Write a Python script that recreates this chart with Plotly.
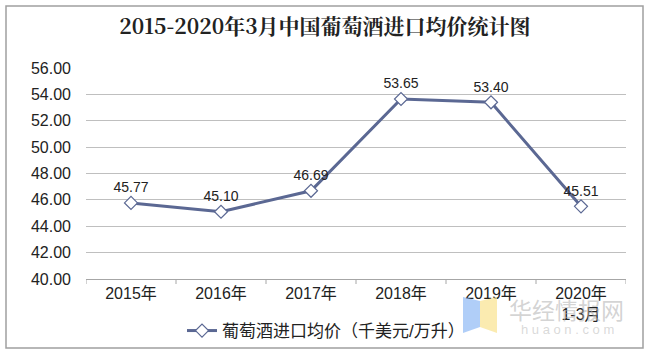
import plotly.graph_objects as go

categories = ["2015年", "2016年", "2017年", "2018年", "2019年", "2020年<br>1-3月"]
values = [45.77, 45.10, 46.69, 53.65, 53.40, 45.51]
value_labels = ["45.77", "45.10", "46.69", "53.65", "53.40", "45.51"]
tick_vals = [40, 42, 44, 46, 48, 50, 52, 54, 56]
tick_text = ["40.00", "42.00", "44.00", "46.00", "48.00", "50.00", "52.00", "54.00", "56.00"]
series_name = "葡萄酒进口均价（千美元/万升）"
title = "2015-2020年3月中国葡萄酒进口均价统计图"

W, H = 650, 355
L, R, T, B = 86, 24, 68, 76
pw, ph = W - L - R, H - T - B

def px_x(x):
    return (x - L) / pw

def px_y(y):
    return (H - B - y) / ph

line_color = "#5b6893"
font_main = "Liberation Sans, Arial, Noto Sans CJK SC, sans-serif"

fig = go.Figure()
fig.add_trace(go.Scatter(
    x=list(range(len(categories))), y=values,
    mode="lines+markers+text",
    name=series_name,
    line=dict(color=line_color, width=3),
    marker=dict(symbol="diamond", size=10, color="white",
                line=dict(color=line_color, width=1.2)),
    text=value_labels, textposition="top center",
    textfont=dict(size=14, color="#222222", family=font_main),
    cliponaxis=False,
))

fig.update_layout(
    width=W, height=H,
    margin=dict(l=L, r=R, t=T, b=B, autoexpand=False),
    paper_bgcolor="white", plot_bgcolor="white",
    showlegend=True,
    legend=dict(orientation="h", x=px_x(182), xanchor="left", y=px_y(331), yanchor="middle",
                font=dict(size=17, color="#222222", family=font_main),
                itemwidth=30, bgcolor="rgba(0,0,0,0)"),
    title=dict(text="<b>" + title + "</b>", x=0.5, xanchor="center",
               y=1 - 27 / H, yanchor="middle",
               font=dict(size=21, color="#222222", family="Noto Serif CJK SC, Noto Sans CJK SC, serif")),
    xaxis=dict(
        tickmode="array", tickvals=list(range(len(categories))), ticktext=categories,
        range=[-0.5, len(categories) - 0.5],
        showgrid=False, showline=True, linecolor="#a6a6a6", linewidth=1,
        ticks="", tickfont=dict(size=16, color="#222222", family=font_main),
        zeroline=False, fixedrange=True,
    ),
    yaxis=dict(
        range=[40, 56], tickmode="array", tickvals=tick_vals, ticktext=tick_text,
        showgrid=True, gridcolor="#bfbfbf", gridwidth=1,
        showline=False, zeroline=False, ticks="",
        tickfont=dict(size=16, color="#222222", family=font_main),
        ticklabelstandoff=14, fixedrange=True,
    ),
)

# category boundary tick marks on the x axis
for i in range(len(categories) + 1):
    fig.add_shape(type="line", xref="x", yref="paper",
                  x0=i - 0.5, x1=i - 0.5, y0=0, y1=-5 / ph,
                  line=dict(color="#a6a6a6", width=1))

# outer chart border
fig.add_shape(type="rect", xref="paper", yref="paper",
              x0=px_x(6), x1=px_x(643), y0=px_y(348), y1=px_y(6),
              line=dict(color="#a0a0a0", width=1.5), fillcolor="rgba(0,0,0,0)", layer="below")

# watermark logo
fig.add_shape(type="path", xref="paper", yref="paper",
              path=f"M {px_x(463)} {px_y(297)} L {px_x(480)} {px_y(301)} L {px_x(480)} {px_y(327)} L {px_x(463)} {px_y(333)} Z",
              fillcolor="rgba(150,190,245,0.75)", line=dict(width=0))
fig.add_shape(type="path", xref="paper", yref="paper",
              path=f"M {px_x(480)} {px_y(301)} L {px_x(497)} {px_y(297)} L {px_x(497)} {px_y(333)} L {px_x(480)} {px_y(327)} Z",
              fillcolor="rgba(250,228,150,0.75)", line=dict(width=0))
# watermark text
fig.add_annotation(xref="paper", yref="paper", x=px_x(566), y=px_y(309), text="华经情报网",
                   xanchor="center", yanchor="middle",
                   showarrow=False, font=dict(size=23, color="rgba(175,175,175,0.55)",
                                              family="Noto Sans CJK SC"))
fig.add_annotation(xref="paper", yref="paper", x=px_x(567), y=px_y(329), text="h u a o n . c o m",
                   xanchor="center", yanchor="middle",
                   showarrow=False, font=dict(size=13, color="rgba(185,185,185,0.55)",
                                              family=font_main))

fig.write_html("out.html", config={"displayModeBar": False},
               post_script="document.body.style.margin='0';document.body.style.overflow='hidden';")
